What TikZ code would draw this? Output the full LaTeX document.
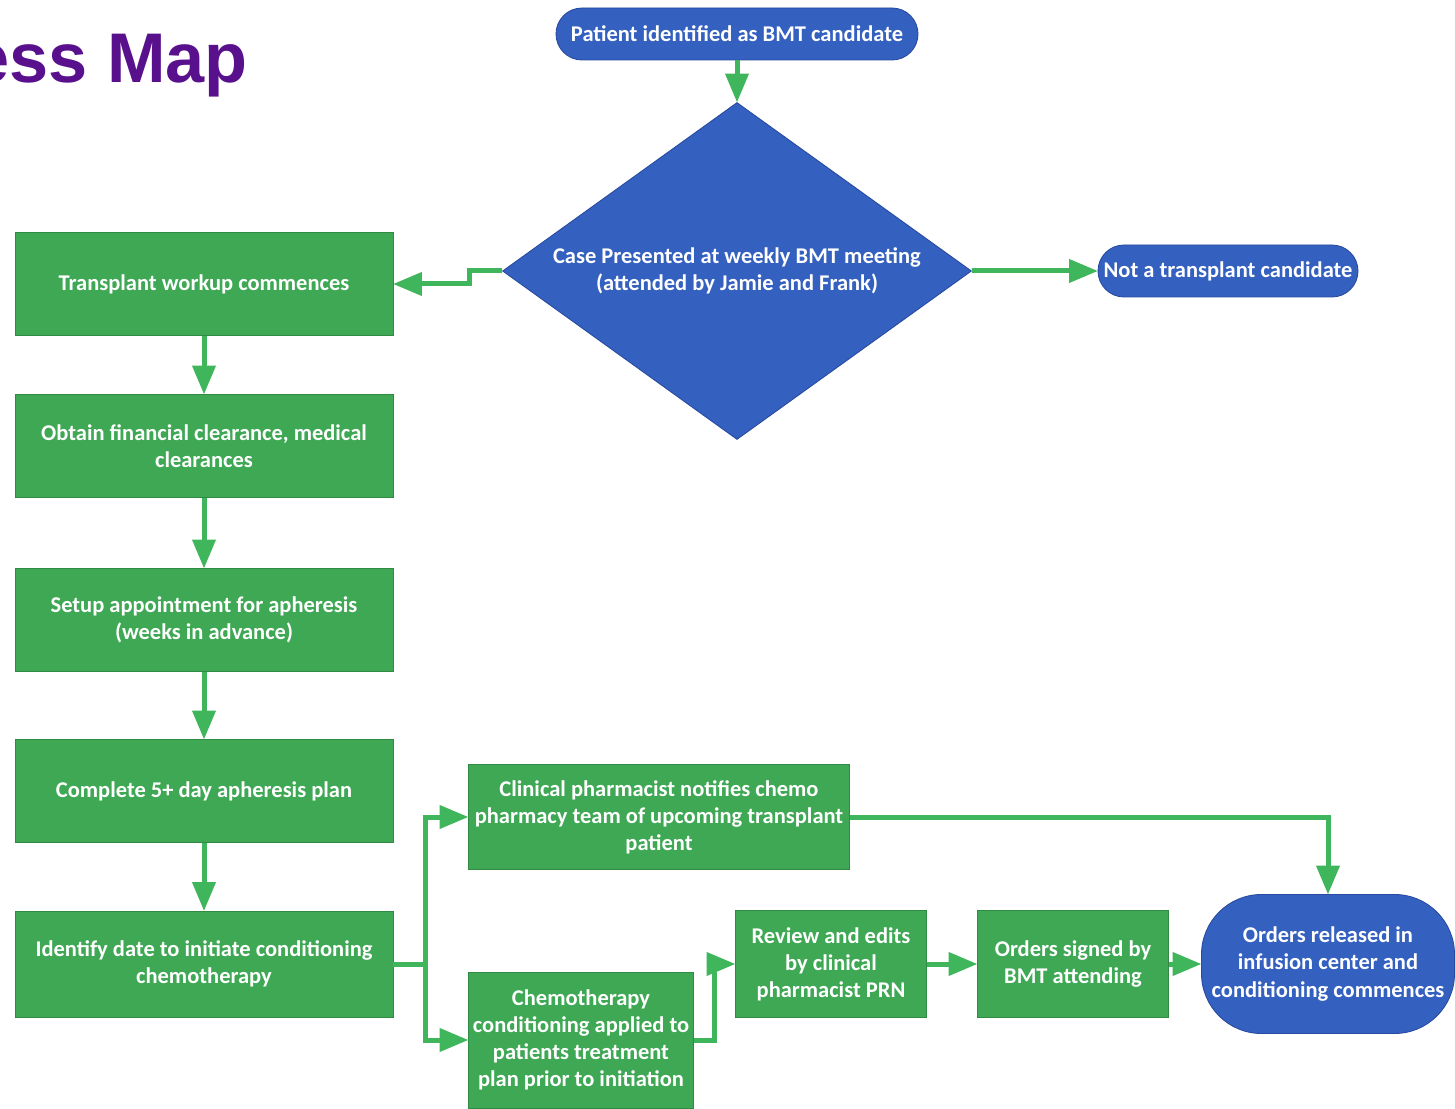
\documentclass[tikz,border=0pt]{standalone}
\usepackage{fontspec}
\setmainfont{Carlito}
\newfontfamily\titlefont{Liberation Sans}
\usepackage{xcolor}
\usepackage{tikz}
\usetikzlibrary{arrows}
\usetikzlibrary{shapes.geometric}
\definecolor{titlepurple}{RGB}{88,16,140}
\definecolor{boxgreen}{RGB}{62,168,84}
\definecolor{boxedge}{RGB}{48,138,68}
\definecolor{flowgreen}{RGB}{64,182,92}
\definecolor{pillblue}{RGB}{52,96,192}
\definecolor{pilledge}{RGB}{40,74,160}
\tikzset{
 greenbox/.style={rectangle, draw=boxedge, line width=.5pt, fill=boxgreen, text=white,
  align=center, minimum width=75.6mm, minimum height=20.6mm, inner sep=1pt},
 bluepill/.style={rectangle, rounded corners=5.2mm, draw=pilledge, line width=.5pt,
  fill=pillblue, text=white, align=center, minimum height=10.4mm, inner sep=1pt},
 flow/.style={flowgreen, line width=1mm, ->, >=triangle 45}
}
\begin{document}
\begin{tikzpicture}[x=.2mm, y=-.2mm, font=\bfseries\fontsize{12.8}{15.4}\selectfont]
\useasboundingbox (0,0) rectangle (1455,1109);
\node[anchor=base west, inner sep=0, text=titlepurple, font=\titlefont\bfseries\fontsize{40}{40}\selectfont] (title) at (-30,83) {ess Map};

\node[bluepill, minimum width=72.4mm] (start) at (737,34) {Patient identified as BMT candidate};
\node[diamond, draw=pilledge, line width=.5pt, fill=pillblue, text=white, align=center,
 aspect=1.39, minimum width=93.8mm, minimum height=67.4mm, inner sep=0] (meeting) at (737,271)
 {Case Presented at weekly BMT meeting\\(attended by Jamie and Frank)};
\node[bluepill, minimum width=52mm] (notcand) at (1228,271) {Not a transplant candidate};

\node[greenbox] (workup) at (204,284) {Transplant workup commences};
\node[greenbox] (clearance) at (204,446) {Obtain financial clearance, medical\\clearances};
\node[greenbox] (apheresis) at (204,620) {Setup appointment for apheresis\\(weeks in advance)};
\node[greenbox] (plan) at (204,791) {Complete 5+ day apheresis plan};
\node[greenbox, minimum height=21.2mm] (identify) at (204,964) {Identify date to initiate conditioning\\chemotherapy};

\node[greenbox, minimum width=76.2mm, minimum height=21mm] (notify) at (659,817)
 {Clinical pharmacist notifies chemo\\pharmacy team of upcoming transplant\\patient};
\node[greenbox, minimum width=45mm, minimum height=27.2mm] (chemo) at (581,1040)
 {Chemotherapy\\conditioning applied to\\patients treatment\\plan prior to initiation};
\node[greenbox, minimum width=38.2mm, minimum height=21.4mm] (review) at (831,964)
 {Review and edits\\by clinical\\pharmacist PRN};
\node[greenbox, minimum width=38.2mm, minimum height=21.4mm] (signed) at (1073,964)
 {Orders signed by\\BMT attending};
\node[bluepill, rounded corners=12mm, minimum width=50.6mm, minimum height=27.8mm] (released) at (1328,964)
 {Orders released in\\infusion center and\\conditioning commences};

\coordinate (split) at (425,964);

\draw[flow] (start) -- (meeting);
\draw[flow] (meeting.east) -- (notcand);
\draw[flow] (meeting.west) -- ++(-33,0) |- (workup.east);
\draw[flow] (workup) -- (clearance);
\draw[flow] (clearance) -- (apheresis);
\draw[flow] (apheresis) -- (plan);
\draw[flow] (plan) -- (identify);
\draw[flow, -] (identify.east) -- (split);
\draw[flow] (split) |- (notify.west);
\draw[flow] (split) |- (chemo.west);
\draw[flow] (notify.east) -| (released.north);
\draw[flow] (chemo.east) -- ++(21,0) |- (review.west);
\draw[flow] (review) -- (signed);
\draw[flow] (signed) -- (released);
\end{tikzpicture}
\end{document}
